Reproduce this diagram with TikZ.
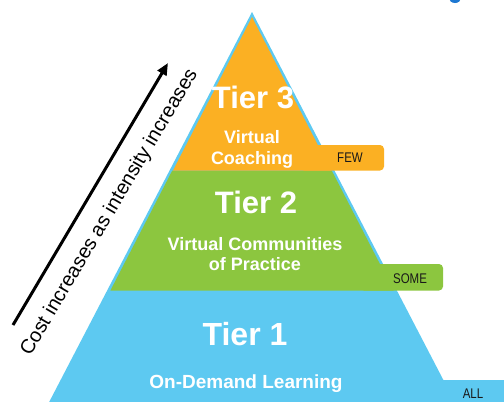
\documentclass[tikz,border=0pt]{standalone}
\usepackage{fontspec}
\setmainfont{Liberation Sans}
\newfontfamily\tabfont[FakeStretch=0.82]{Liberation Sans}
\usetikzlibrary{arrows.meta}

\definecolor{tierorange}{RGB}{251,176,35}
\definecolor{tiergreen}{RGB}{140,198,63}
\definecolor{tierblue}{RGB}{93,201,241}
\definecolor{cornerblue}{RGB}{30,120,210}

\tikzset{
  tiertitle/.style={text=white, font=\fontsize{31}{31}\selectfont\bfseries, anchor=base, inner sep=0pt},
  tiersub/.style={text=white, font=\fontsize{18}{18}\selectfont\bfseries, anchor=base, inner sep=0pt},
  tabtext/.style={text=black!90, font=\tabfont\fontsize{14}{14}\selectfont, anchor=base, inner sep=0pt},
  costarrow/.style={line width=3pt, -{Triangle[length=12pt,width=10pt]}},
}

\begin{document}
\begin{tikzpicture}[x=1pt,y=-1pt]

  \useasboundingbox (0,0) rectangle (504,402);
  \clip (0,0) rectangle (504,402);

  \fill[cornerblue] (455,-2) ellipse [x radius=6, y radius=5];

  % tier 1 (shows as outline round the upper tiers)
  \fill[tierblue] (252,12) -- (459,410) -- (45,410) -- cycle;
  \fill[tierblue, rounded corners=4pt] (420,380) rectangle (530,430);

  % tier 2
  \fill[tiergreen, rounded corners=4pt] (360,264) rectangle (443,290.5);
  \fill[tiergreen] (172.3,170.5) -- (331.7,170.5) -- (393.6,290.5) -- (110.4,290.5) -- cycle;

  % tier 3
  \fill[tierorange, rounded corners=4pt] (300,145) rectangle (384,170.5);
  \fill[tierorange] (252,17) -- (331,170.5) -- (173,170.5) -- cycle;

  \node[tiertitle] (tier3) at (253,108) {Tier 3};
  \node[tiersub] (tier3a) at (252,143) {Virtual};
  \node[tiersub] (tier3b) at (252,164) {Coaching};
  \node[tabtext] (few) at (350,162) {FEW};

  \node[tiertitle] (tier2) at (256,213) {Tier 2};
  \node[tiersub] (tier2a) at (255,250) {Virtual Communities};
  \node[tiersub] (tier2b) at (255,270) {of Practice};
  \node[tabtext] (some) at (410,283) {SOME};

  \node[tiertitle, font=\fontsize{32}{32}\selectfont\bfseries] (tier1) at (245,345) {Tier 1};
  \node[tiersub, font=\fontsize{19}{19}\selectfont\bfseries] (tier1a) at (246,388) {On-Demand Learning};
  \node[tabtext] (all) at (473,398) {ALL};

  % cost arrow
  \coordinate (costlow) at (13,325);
  \coordinate (costhigh) at (168,63);
  \draw[costarrow] (costlow) -- (costhigh)
    node[pos=0.48, sloped, below=15pt, inner sep=0pt, font=\fontsize{20}{20}\selectfont] (costlabel) {Cost increases as intensity increases};

\end{tikzpicture}
\end{document}
